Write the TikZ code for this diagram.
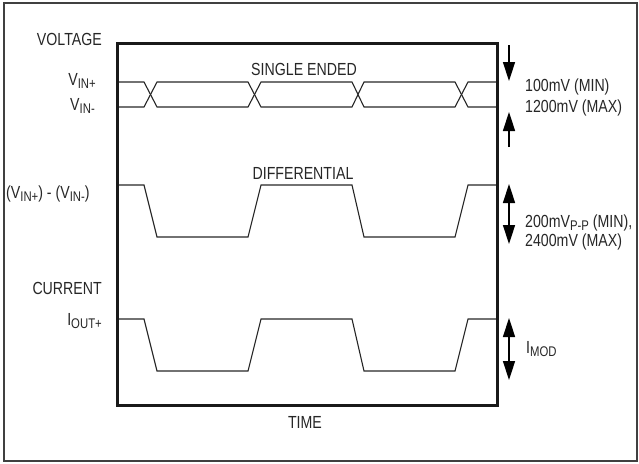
\documentclass[tikz,border=0pt]{standalone}
\usepackage{fontspec}
\setmainfont{Liberation Sans}[FakeStretch=0.81]
\usetikzlibrary{arrows.meta}
\newcommand{\lowtxt}[1]{\raisebox{-3pt}{\fontsize{14pt}{14pt}\selectfont #1}}

\begin{document}
\begin{tikzpicture}[x=1pt,y=-1pt,>={Triangle[width=12pt,length=19pt]}]
    \tikzstyle{lbl}=[inner sep=0pt,text=black!85,font=\fontsize{17.5pt}{19pt}\selectfont]
    \tikzstyle{sig}=[line width=1.1pt,black!85]
    \tikzstyle{amparrow}=[line width=1.5pt,black]
    \useasboundingbox (0,0) rectangle (639,463);
    \draw[line width=1.3pt,black!75] (4,3) rectangle (637,461);

    % single ended pair
    \foreach \a/\b in {82/107, 107/82}
        \draw[sig] (117,\a) -- (144,\a) -- (157,\b) -- (248,\b) -- (261,\a) -- (352,\a)
            -- (364,\b) -- (455,\b) -- (468,\a) -- (497,\a);
    % differential and current
    \foreach \hi/\lo in {185/237, 319/371}
        \draw[sig] (117,\hi) -- (144,\hi) -- (157,\lo) -- (248,\lo) -- (261,\hi) -- (352,\hi)
            -- (364,\lo) -- (455,\lo) -- (468,\hi) -- (497,\hi);

    \draw[line width=3pt,black!90] (117,43) rectangle (497,405);

    \node[lbl,anchor=base east] (L-volt) at (102,45) {VOLTAGE};
    \node[lbl,anchor=base east] (L-vinp) at (96,85) {V\lowtxt{IN+}};
    \node[lbl,anchor=base east] (L-vinm) at (95,110) {V\lowtxt{IN-}};
    \node[lbl,anchor=base west] (L-diff) at (6,198) {(V\lowtxt{IN+}) - (V\lowtxt{IN-})};
    \node[lbl,anchor=base east] (L-curr) at (102,294) {CURRENT};
    \node[lbl,anchor=base east] (L-iout) at (102,325) {I\lowtxt{OUT+}};

    \node[lbl,anchor=base] (T-se) at (304,75) {SINGLE ENDED};
    \node[lbl,anchor=base] (T-diff) at (303,179) {DIFFERENTIAL};
    \node[lbl,anchor=base] (T-time) at (305,428) {TIME};

    \node[lbl,anchor=base west] (R-se1) at (525,91) {100mV (MIN)};
    \node[lbl,anchor=base west] (R-se2) at (525,112) {1200mV (MAX)};
    \node[lbl,anchor=base west] (R-diff1) at (525,227) {200mV\lowtxt{P-P} (MIN),};
    \node[lbl,anchor=base west] (R-diff2) at (525,246) {2400mV (MAX)};
    \node[lbl,anchor=base west] (R-mod) at (526,353) {I\lowtxt{MOD}};

    \foreach \name/\y in {se-top/45, se-hi/81, se-lo/112, se-bot/147,
                          diff-hi/184, diff-lo/244, mod-hi/318, mod-lo/380}
        \coordinate (A-\name) at (509,\y);
    \draw[amparrow,->] (A-se-top) -- (A-se-hi);
    \draw[amparrow,->] (A-se-bot) -- (A-se-lo);
    \draw[amparrow,<->] (A-diff-hi) -- (A-diff-lo);
    \draw[amparrow,<->] (A-mod-hi) -- (A-mod-lo);
\end{tikzpicture}
\end{document}
